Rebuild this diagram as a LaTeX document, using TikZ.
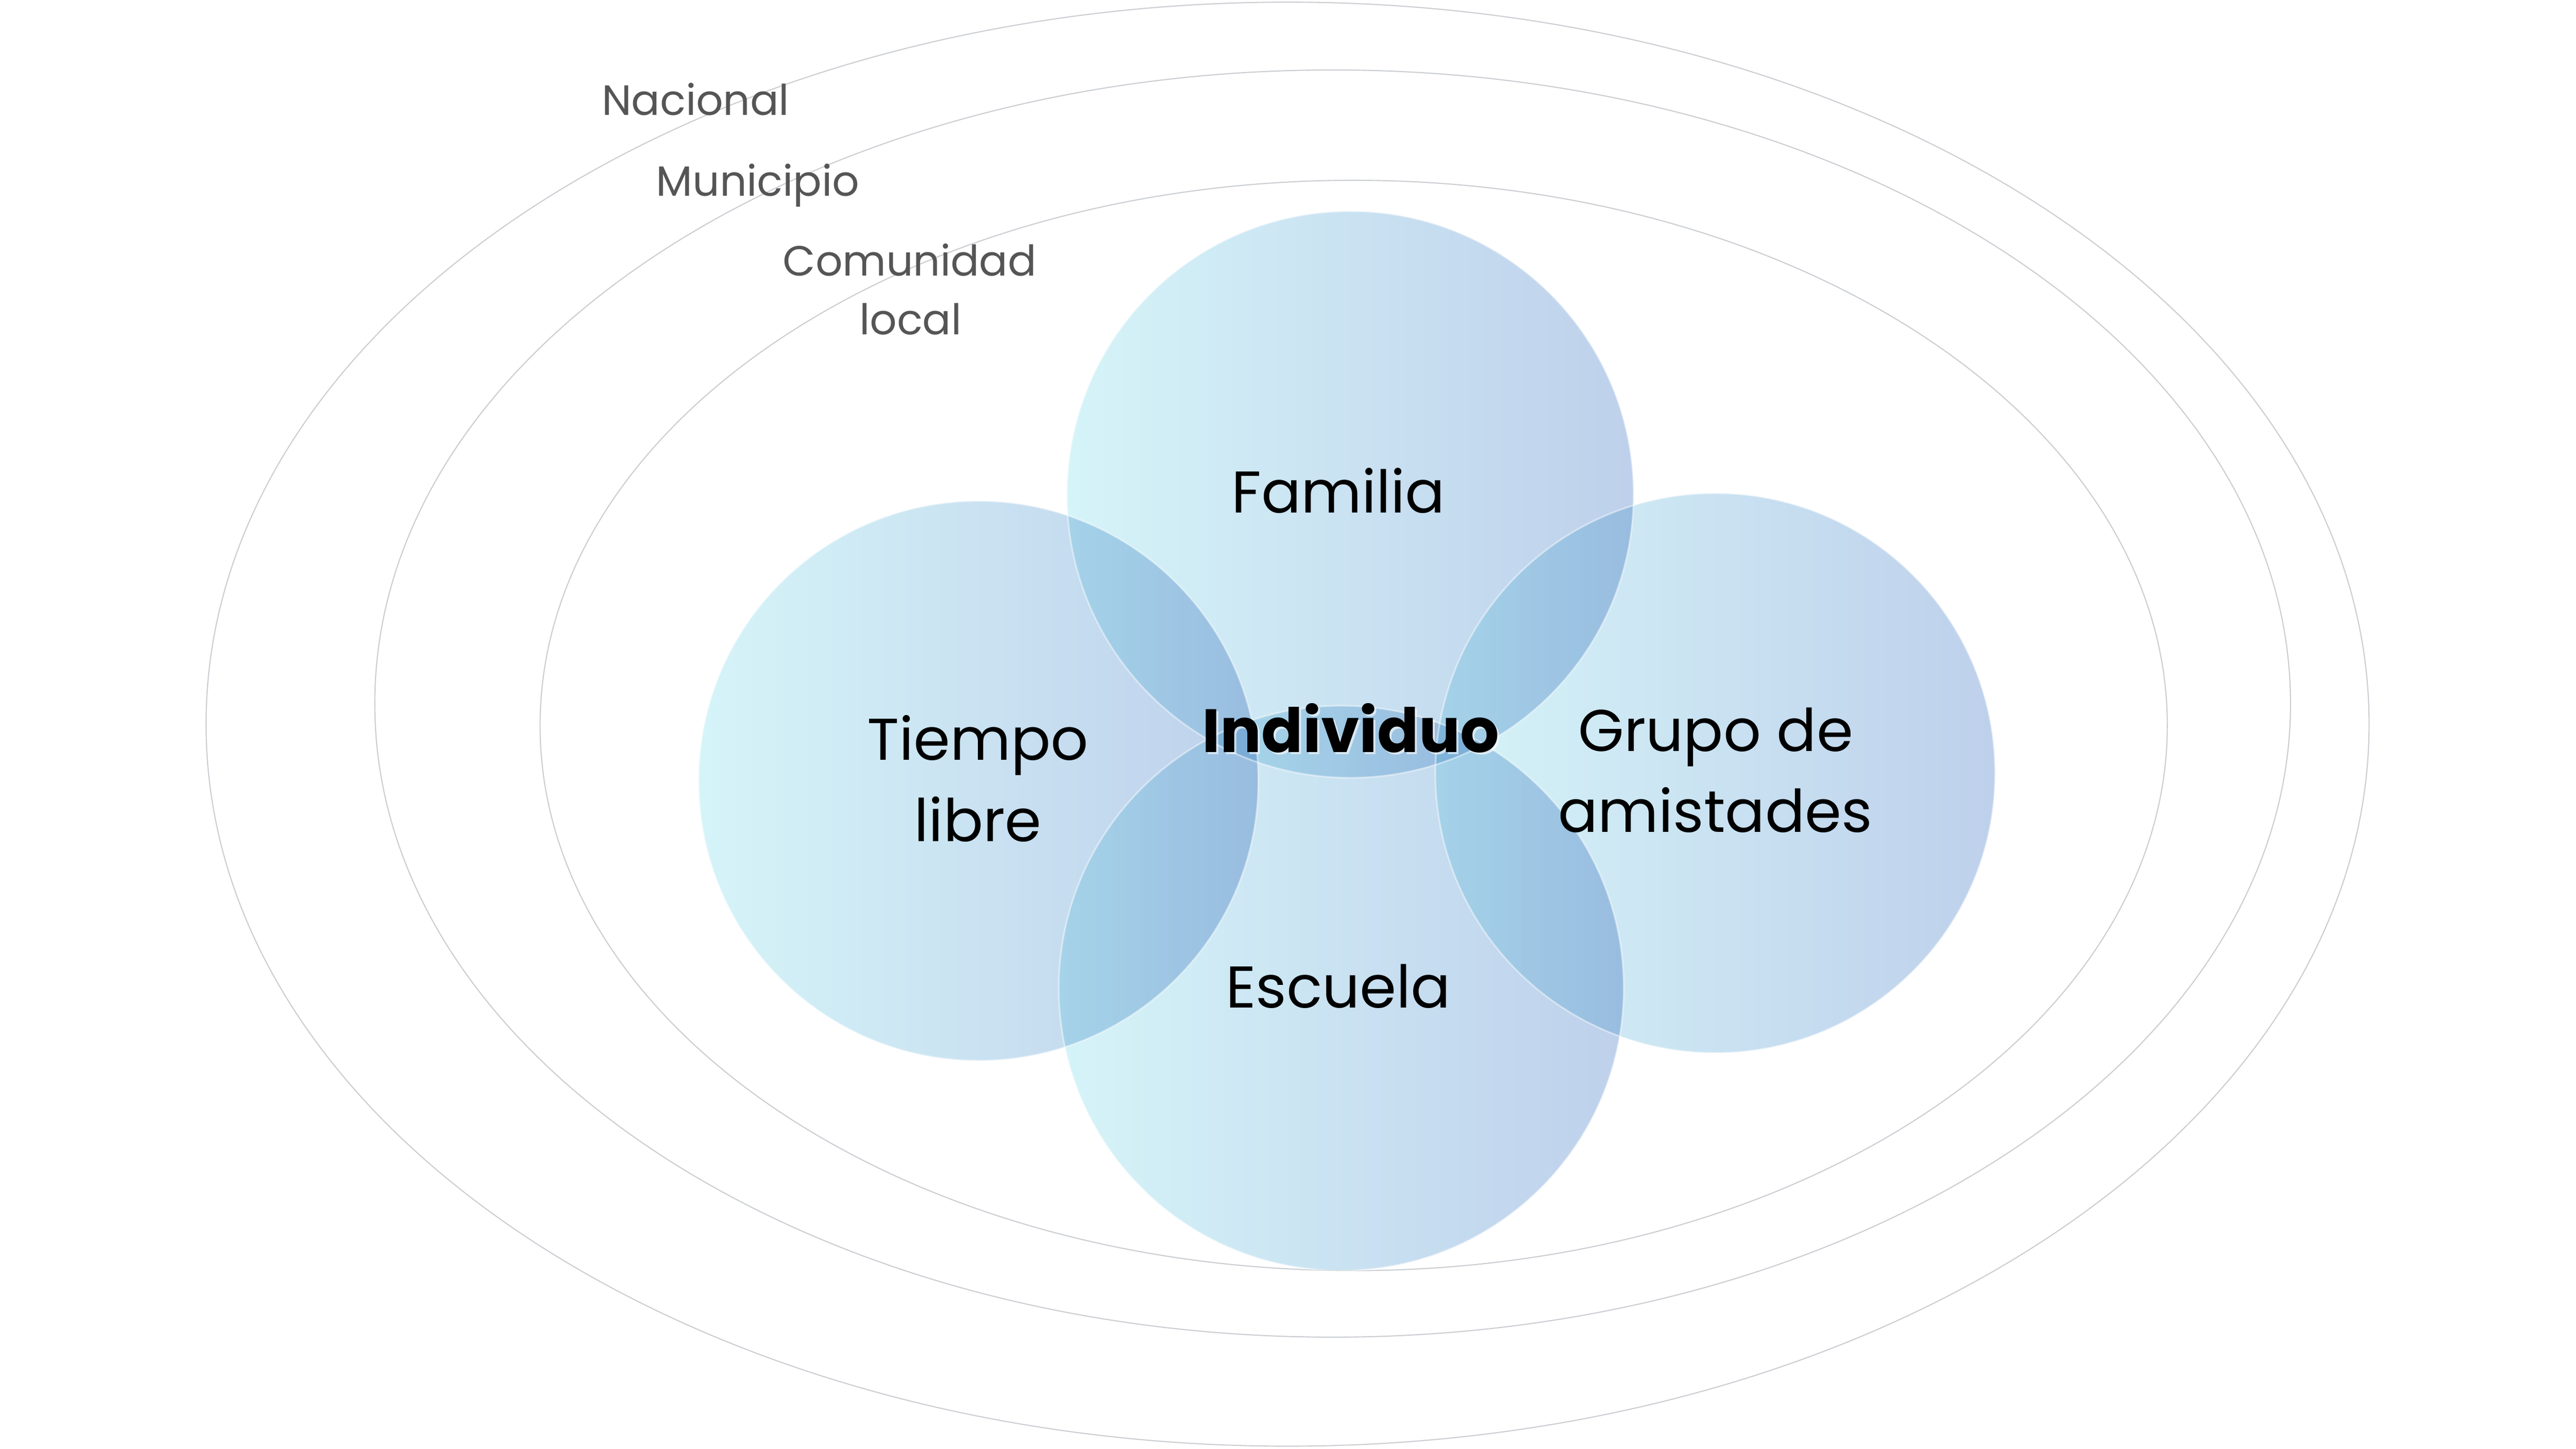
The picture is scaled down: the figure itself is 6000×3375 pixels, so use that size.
\documentclass[tikz,border=0pt]{standalone}
\usepackage{fontspec}
\setmainfont{Poppins}
\definecolor{bubL}{RGB}{213,244,248}
\definecolor{bubR}{RGB}{190,208,235}
\definecolor{ringgrey}{RGB}{202,205,209}
\definecolor{lvlgrey}{RGB}{85,85,85}
\begin{document}
\begin{tikzpicture}[x=0.01cm,y=-0.01cm,
  ring/.style={draw=ringgrey, line width=0.025cm},
  bubble/.style={left color=bubL, right color=bubR, blend mode=multiply},
  rim/.style={draw=white, line width=0.04cm, draw opacity=0.45},
  lvl/.style={font=\fontsize{28}{39}\selectfont, text=lvlgrey, anchor=base, inner sep=0pt},
  lbl/.style={font=\fontsize{39}{54}\selectfont, text=black, anchor=base, inner sep=0pt},
  boldlbl/.style={font=\fontsize{40.5}{54}\selectfont\bfseries, anchor=base, inner sep=0pt}]
\fill[white] (0,0) rectangle (6000,3375);
\useasboundingbox (0,0) rectangle (6000,3375);
% rings
\coordinate (cNac) at (2999,1687);
\coordinate (cMun) at (3104,1639);
\coordinate (cCom) at (3153,1690);
\draw[ring] (cNac) ellipse [x radius=2519, y radius=1682];
\draw[ring] (cMun) ellipse [x radius=2231, y radius=1476];
\draw[ring] (cCom) ellipse [x radius=1895, y radius=1270];
% circles
\coordinate (cFam) at (3145,1152);
\coordinate (cTie) at (2279,1819);
\coordinate (cGru) at (3995,1801);
\coordinate (cEsc) at (3124,2302);
\shade[bubble] (cFam) circle [radius=660];
\shade[bubble] (cTie) circle [radius=652];
\shade[bubble] (cGru) circle [radius=652];
\shade[bubble] (cEsc) circle [radius=658];
\draw[rim] (cFam) circle [radius=660];
\draw[rim] (cTie) circle [radius=652];
\draw[rim] (cGru) circle [radius=652];
\draw[rim] (cEsc) circle [radius=658];
% ring labels
\node[lvl] (tNac) at (1620,268) {Nacional};
\node[lvl] (tMun) at (1765,456) {Municipio};
\node[lvl] (tCom1) at (2119,642) {Comunidad};
\node[lvl] (tCom2) at (2121,779) {local};
% circle labels
\node[lbl] (tFam) at (3117,1194) {Familia};
\node[lbl] (tTie1) at (2278,1770) {Tiempo};
\node[lbl] (tTie2) at (2278,1960) {libre};
\node[lbl] (tGru1) at (3996,1750) {Grupo de};
\node[lbl] (tGru2) at (3995,1939) {amistades};
\node[lbl] (tEsc) at (3117,2348) {Escuela};
\node[boldlbl, text=white, opacity=0.6] (tIndS) at (3151,1757) {Individuo};
\node[boldlbl, text=black] (tInd) at (3146,1752) {Individuo};
\end{tikzpicture}
\end{document}
